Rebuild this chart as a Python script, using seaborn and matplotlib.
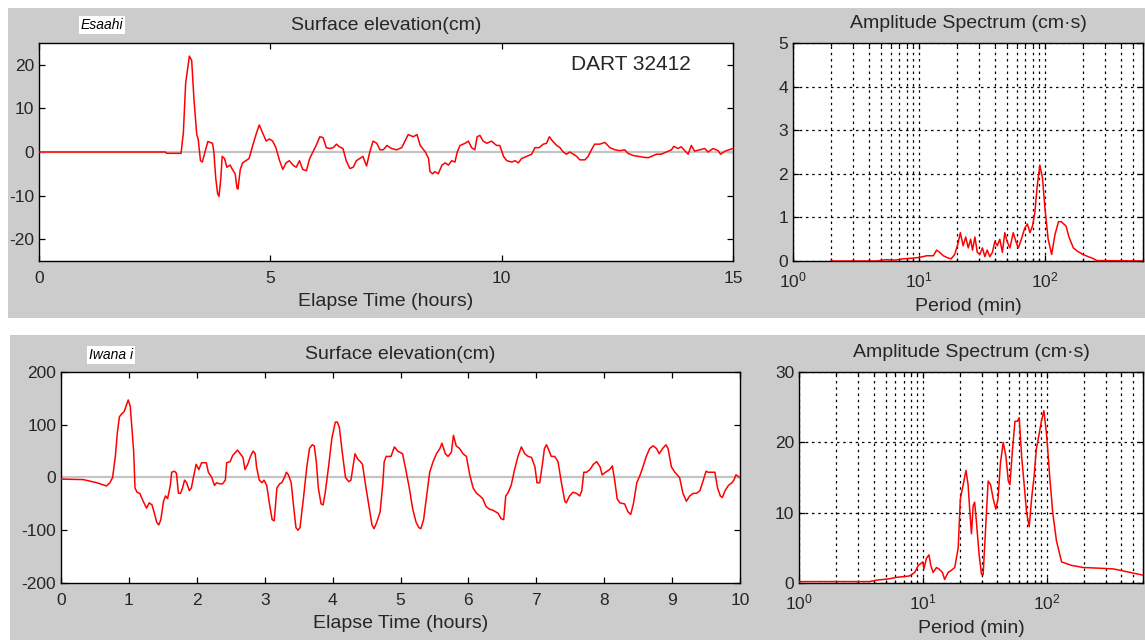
import matplotlib
matplotlib.use("Agg")
import matplotlib.pyplot as plt
from matplotlib.patches import Rectangle
from matplotlib.ticker import LogLocator, NullFormatter, FixedLocator
import seaborn as sns
import numpy as np

# ---- DART 32412 record (Esaahi) ----
esaahi_t = [0.0, 2.73, 2.76, 3.07, 3.12, 3.17, 3.25, 3.30, 3.35, 3.41, 3.44, 3.49, 3.53,
            3.60, 3.65, 3.75, 3.78, 3.82, 3.86, 3.89, 3.93, 3.96, 4.01, 4.06, 4.13, 4.18,
            4.24, 4.28, 4.30, 4.35, 4.40, 4.47, 4.54, 4.62, 4.69, 4.76, 4.83, 4.91, 4.98,
            5.05, 5.12, 5.20, 5.27, 5.34, 5.41, 5.49, 5.56, 5.63, 5.70, 5.78, 5.85, 5.92,
            5.99, 6.07, 6.14, 6.21, 6.28, 6.36, 6.43, 6.49, 6.57, 6.64, 6.72, 6.79, 6.86,
            6.93, 7.00, 7.08, 7.15, 7.22, 7.30, 7.37, 7.44, 7.52, 7.62, 7.73, 7.84, 7.91,
            7.98, 8.09, 8.17, 8.24, 8.35, 8.42, 8.45, 8.51, 8.56, 8.63, 8.71, 8.78, 8.85,
            8.92, 8.99, 9.04, 9.10, 9.21, 9.28, 9.35, 9.42, 9.47, 9.53, 9.60, 9.68, 9.78,
            9.89, 9.96, 10.04, 10.11, 10.22, 10.29, 10.36, 10.43, 10.54, 10.65, 10.72,
            10.81, 10.90, 10.97, 11.03, 11.10, 11.19, 11.26, 11.33, 11.40, 11.47, 11.55,
            11.62, 11.69, 11.80, 11.87, 11.94, 12.01, 12.12, 12.23, 12.34, 12.45, 12.55,
            12.66, 12.73, 12.84, 12.95, 13.06, 13.17, 13.24, 13.35, 13.45, 13.56, 13.67,
            13.72, 13.81, 13.88, 13.96, 14.03, 14.10, 14.17, 14.28, 14.39, 14.46, 14.57,
            14.68, 14.73, 14.83, 14.91, 15.0]
esaahi_eta = [0.0, 0.0, -0.3, -0.3, 4.4, 15.8, 22.0, 21.0, 12.0, 4.0, 3.0, -2.0, -2.3,
              0.5, 2.4, 2.0, 0.0, -6.0, -9.5, -10.2, -6.0, -1.0, -1.5, -3.5, -3.0, -4.0,
              -5.0, -8.3, -8.5, -4.0, -2.5, -2.0, -1.5, 1.5, 4.0, 6.2, 4.5, 2.5, 3.0,
              2.5, 1.0, -2.0, -4.0, -2.5, -2.0, -3.0, -3.5, -2.0, -4.0, -4.3, -1.5, 0.0,
              1.5, 3.5, 3.3, 1.0, 0.8, 1.0, 1.8, 1.2, 0.8, -2.0, -3.8, -3.5, -2.0,
              -1.5, -1.0, -3.2, 0.0, 2.5, 2.0, 0.5, 0.5, 1.5, 0.8, 0.5, 1.0, 2.5,
              4.0, 3.5, 4.0, 1.5, 0.0, -1.5, -4.5, -5.0, -4.5, -5.0, -3.0, -2.5, -3.0,
              -2.0, -2.3, 0.0, 1.5, 2.0, 2.5, 1.0, 0.5, 3.5, 3.8, 2.5, 2.0, 2.5,
              1.5, 1.5, -1.0, -2.0, -2.3, -2.0, -2.5, -1.5, -1.0, -0.5, 1.0,
              1.0, 1.8, 2.0, 3.5, 2.5, 1.5, 1.0, 0.0, -0.5, 0.0, -0.5,
              -1.0, -1.8, -1.8, -1.0, 0.5, 1.8, 1.8, 2.2, 1.0, 0.5, 0.3,
              0.5, -0.3, -0.8, -1.0, -1.2, -1.3, -1.0, -0.5, -0.5, 0.0, 0.5,
              1.3, 0.8, 1.2, 0.3, -0.5, 1.5, 0.2, 0.5, 0.8, 0.0, 0.8,
              0.3, -0.5, 0.2, 0.5, 0.8]

# ---- Iwanai tide gauge record ----
iwanai_t = [0.0, 0.33, 0.53, 0.67, 0.72, 0.76, 0.80, 0.83, 0.86, 0.89, 0.93, 0.97, 0.99,
            1.02, 1.04, 1.07, 1.09, 1.12, 1.16, 1.21, 1.26, 1.30, 1.34, 1.38, 1.41, 1.44,
            1.47, 1.51, 1.54, 1.57, 1.61, 1.63, 1.67, 1.70, 1.73, 1.76, 1.79, 1.82, 1.85,
            1.89, 1.92, 1.95, 1.99, 2.03, 2.07, 2.14, 2.17, 2.22, 2.26, 2.29, 2.34, 2.38,
            2.42, 2.44, 2.49, 2.53, 2.60, 2.64, 2.68, 2.71, 2.75, 2.79, 2.83, 2.86, 2.88,
            2.92, 2.96, 2.99, 3.03, 3.07, 3.11, 3.14, 3.18, 3.22, 3.25, 3.29, 3.32, 3.35,
            3.39, 3.43, 3.46, 3.49, 3.52, 3.57, 3.62, 3.66, 3.70, 3.73, 3.76, 3.79, 3.83,
            3.86, 3.89, 3.94, 3.99, 4.04, 4.07, 4.10, 4.14, 4.19, 4.24, 4.27, 4.30, 4.33,
            4.37, 4.41, 4.44, 4.48, 4.53, 4.58, 4.61, 4.65, 4.70, 4.74, 4.76, 4.79, 4.86,
            4.91, 4.96, 5.03, 5.07, 5.13, 5.18, 5.23, 5.27, 5.30, 5.34, 5.38, 5.43, 5.48,
            5.53, 5.58, 5.61, 5.66, 5.70, 5.75, 5.78, 5.82, 5.87, 5.92, 5.97, 6.02, 6.07,
            6.12, 6.17, 6.21, 6.26, 6.31, 6.36, 6.44, 6.48, 6.52, 6.55, 6.58, 6.63, 6.68,
            6.73, 6.78, 6.83, 6.88, 6.93, 6.98, 7.01, 7.05, 7.09, 7.12, 7.15, 7.19, 7.22,
            7.27, 7.32, 7.37, 7.42, 7.44, 7.49, 7.54, 7.59, 7.64, 7.67, 7.70, 7.74, 7.79,
            7.84, 7.89, 7.94, 7.97, 8.02, 8.08, 8.12, 8.16, 8.19, 8.23, 8.30, 8.35, 8.39,
            8.43, 8.48, 8.53, 8.57, 8.62, 8.67, 8.72, 8.77, 8.81, 8.86, 8.91, 8.94, 8.99,
            9.04, 9.11, 9.16, 9.21, 9.26, 9.31, 9.36, 9.41, 9.46, 9.50, 9.53, 9.58, 9.63,
            9.67, 9.71, 9.74, 9.78, 9.83, 9.88, 9.91, 9.94, 10.0]
iwanai_eta = [-3, -4, -10, -16, -10, 0, 40, 85, 115, 120, 125, 140, 147,
              135, 100, 50, -20, -28, -30, -45, -58, -48, -52, -70, -85, -90,
              -80, -45, -35, -40, -15, 10, 12, 8, -30, -30, -20, -5, -10,
              -25, -20, 0, 25, 15, 28, 28, 10, 0, -15, -10, -12, -12,
              -5, 28, 30, 42, 52, 45, 38, 15, 25, 40, 50, 45, 20,
              -5, -10, -5, -15, -50, -80, -82, -20, -12, -10, 0, 10, 5,
              -10, -60, -95, -100, -95, -40, 20, 55, 62, 60, 30, -20, -50,
              -52, -30, 20, 75, 105, 105, 95, 50, 0, -8, -5, 20, 45,
              35, 30, 25, -10, -50, -90, -97, -85, -65, -10, 30, 40, 40,
              58, 50, 45, 20, -20, -60, -85, -95, -97, -80, -40, 10, 30,
              45, 55, 65, 45, 40, 48, 80, 60, 55, 45, 40, 5, -20,
              -30, -35, -40, -55, -60, -62, -68, -78, -80, -35, -30, -15, 15,
              40, 58, 45, 40, 38, 20, -10, -10, 25, 55, 62, 50, 40,
              40, 30, -10, -45, -48, -35, -28, -30, -35, -25, 10, 10, 15,
              25, 30, 20, 5, 10, 15, 22, -10, -40, -48, -50, -65, -70,
              -50, -10, 5, 20, 40, 55, 60, 55, 45, 55, 62, 55, 20,
              10, 0, -30, -45, -35, -30, -30, -25, -5, 12, 10, 10, 10,
              -20, -35, -38, -25, -15, -10, -5, 5, 0]

# ---- amplitude spectra ----
esaahi_period = [2.0, 4.6, 5.5, 6.5, 7.5, 8.5, 10, 11.5, 13, 13.8, 14.6, 15.6, 17, 18,
                 19.2, 20.4, 21.3, 22.4, 23.5, 24.6, 25.7, 26.6, 27.8, 29, 30.4, 31.9,
                 33.3, 34.8, 36.5, 38.3, 40, 41.8, 43.8, 45.9, 48, 50, 52.7, 56, 58.7,
                 61.4, 65, 69, 72.5, 76, 79.6, 83, 86.7, 91, 95.6, 100, 106, 113, 120,
                 128, 135, 147, 155, 168, 182, 200, 220, 240, 258, 600]
esaahi_amp = [0.0, 0.0, 0.03, 0.02, 0.05, 0.06, 0.08, 0.12, 0.12, 0.25, 0.2, 0.12, 0.07, 0.05,
              0.15, 0.4, 0.65, 0.35, 0.55, 0.3, 0.5, 0.25, 0.55, 0.2, 0.15, 0.3,
              0.1, 0.25, 0.1, 0.2, 0.45, 0.35, 0.5, 0.2, 0.65, 0.45, 0.3, 0.65, 0.45,
              0.3, 0.5, 0.75, 0.85, 0.65, 0.8, 1.1, 1.7, 2.2, 1.9, 1.2, 0.5, 0.15, 0.6,
              0.9, 0.9, 0.8, 0.55, 0.3, 0.22, 0.15, 0.1, 0.06, 0.01, 0.0]

iwanai_period = [1.0, 3.7, 4.2, 4.8, 5.4, 6.1, 6.9, 7.8, 8.6, 9.2, 10, 10.2, 10.7, 11.2,
                 11.6, 12.1, 12.9, 13.5, 14.4, 15, 16, 17, 18.1, 19.3, 20.1, 21.2, 22.3,
                 23.2, 24, 24.7, 25.5, 26.2, 27, 28.5, 29.8, 30.7, 32.2, 33.7, 35.2, 37,
                 38.9, 40.5, 42.3, 44.6, 46.9, 49, 50.5, 53, 55.5, 58, 60, 62.8, 65.8,
                 68.9, 72.3, 75.6, 79, 82.5, 86.6, 90.7, 95, 100, 106, 112, 120, 132,
                 159, 198, 270, 347, 445, 605]
iwanai_amp = [0.2, 0.2, 0.4, 0.5, 0.6, 0.8, 0.9, 1.0, 1.5, 2.5, 3.0, 2.0, 3.5, 4.0,
              2.5, 1.5, 2.2, 2.0, 1.5, 0.5, 1.5, 1.8, 2.2, 5.0, 12, 14, 16,
              14, 10, 7, 11, 11.5, 9, 4, 1.2, 1.2, 8, 14.5, 14, 12,
              10.5, 12, 17, 20, 18, 14.5, 14, 19, 23, 23, 23.5, 18, 14,
              10, 8, 12, 15, 19, 21, 23, 24.5, 21, 15, 10, 6, 3,
              2.5, 2.2, 2.1, 2.0, 1.6, 1.1]

W, H, DPI = 1145, 640, 100
PANEL = "#cccccc"
INK = "#262626"
FONT = ["Liberation Sans", "DejaVu Sans"]

sns.set_theme(style="ticks")
plt.rcParams["font.family"] = FONT
plt.rcParams["mathtext.fontset"] = "custom"
plt.rcParams["mathtext.rm"] = "Liberation Sans"
plt.rcParams["axes.unicode_minus"] = False

fig = plt.figure(figsize=(W / DPI, H / DPI), dpi=DPI)
fig.patch.set_facecolor("white")


def px_rect(x0, y0, x1, y1):
    return [x0 / W, 1 - y1 / H, (x1 - x0) / W, (y1 - y0) / H]


# grey window backgrounds
for (x0, y0, x1, y1) in [(8, 8, 1145, 318), (10, 335, 1145, 640)]:
    r = px_rect(x0, y0, x1, y1)
    fig.patches.append(Rectangle((r[0], r[1]), r[2], r[3], transform=fig.transFigure,
                                 facecolor=PANEL, edgecolor="none", zorder=-10))


def style_axes(ax):
    ax.set_facecolor("white")
    for s in ax.spines.values():
        s.set_visible(True)
        s.set_color("black")
        s.set_linewidth(1.0)
    ax.tick_params(which="both", direction="in", top=True, right=True,
                   labelsize=12.5, colors="black", labelcolor=INK, width=0.9)
    ax.tick_params(which="major", length=4)
    ax.tick_params(which="minor", length=2.5)


def series_panel(rect, t, eta, xlim, xticks, ylim, yticks):
    ax = fig.add_axes(rect)
    style_axes(ax)
    ax.tick_params(axis="x", which="both", pad=7)
    ax.axhline(0, color="#c4c4c4", lw=1.6, zorder=1)
    sns.lineplot(x=t, y=eta, ax=ax, color="red", lw=1.1, sort=False, zorder=3)
    ax.set_xlim(*xlim)
    ax.set_ylim(*ylim)
    ax.set_xticks(xticks)
    ax.set_yticks(yticks)
    ax.set_title("Surface elevation(cm)", fontsize=14, color=INK, pad=9)
    ax.set_xlabel("Elapse Time (hours)", fontsize=14, color=INK, labelpad=5)
    ax.set_ylabel("")
    return ax


def spectrum_panel(rect, period, amp, ylim, yticks):
    ax = fig.add_axes(rect)
    style_axes(ax)
    ax.tick_params(axis="x", which="both", pad=7)
    ax.set_xscale("log")
    ax.set_xlim(1, 600)
    ax.set_ylim(*ylim)
    ax.set_yticks(yticks)
    ax.xaxis.set_major_locator(FixedLocator([1, 10, 100]))
    ax.xaxis.set_minor_locator(LogLocator(base=10, subs=np.arange(2, 10), numticks=20))
    ax.xaxis.set_minor_formatter(NullFormatter())
    ax.grid(True, which="both", axis="x", color="black", lw=0.9, ls=(0, (2, 3)))
    ax.grid(True, which="major", axis="y", color="black", lw=0.9, ls=(0, (2, 3)))
    sns.lineplot(x=period, y=amp, ax=ax, color="red", lw=1.1, sort=False, zorder=3)
    ax.set_title("Amplitude Spectrum (cm\u00b7s)", fontsize=14, color=INK, pad=11)
    ax.set_xlabel("Period (min)", fontsize=14, color=INK, labelpad=5)
    ax.set_ylabel("")
    return ax


ax1 = series_panel(px_rect(39, 43, 733, 261), esaahi_t, esaahi_eta,
                   (0, 15), [0, 5, 10, 15], (-25, 25), [-20, -10, 0, 10, 20])
ax1.text(12.8, 20, "DART 32412", fontsize=15, color=INK, ha="center", va="center")

ax2 = spectrum_panel(px_rect(793, 43, 1143, 261), esaahi_period, esaahi_amp,
                     (0, 5), [0, 1, 2, 3, 4, 5])

ax3 = series_panel(px_rect(61, 372, 740, 583), iwanai_t, iwanai_eta,
                   (0, 10), list(range(11)), (-200, 200), [-200, -100, 0, 100, 200])

ax4 = spectrum_panel(px_rect(799, 372, 1143, 583), iwanai_period, iwanai_amp,
                     (0, 30), [0, 10, 20, 30])

# station name tags
for (cx, cy, name) in [(102, 25, "Esaahi"), (111, 355, "Iwana i")]:
    fig.text(cx / W, 1 - cy / H, name, fontsize=10, style="italic", color="black",
             ha="center", va="center",
             bbox=dict(boxstyle="square,pad=0.15", facecolor="white", edgecolor="none"))

fig.savefig("out.png", dpi=DPI, facecolor=fig.get_facecolor())
